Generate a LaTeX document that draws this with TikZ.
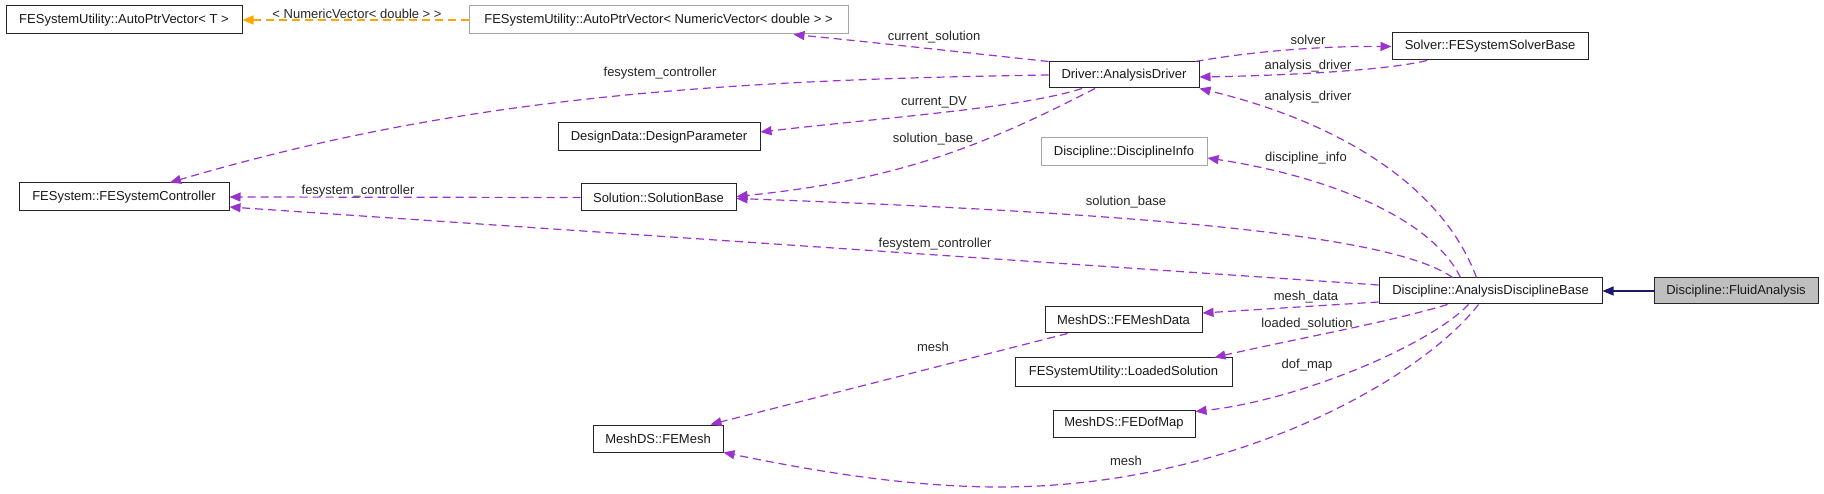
\documentclass[tikz,border=0pt]{standalone}
\usepackage{fontspec}
\setmainfont{Liberation Sans}
\usetikzlibrary{arrows.meta}
\definecolor{edgepurple}{HTML}{9A32CD}
\definecolor{tmplorange}{HTML}{FFA500}
\definecolor{inhnavy}{HTML}{191970}
\definecolor{boxgray}{HTML}{BFBFBF}
\begin{document}
\begin{tikzpicture}[x=1pt,y=-1pt,
  cls/.style={draw=black!85, line width=1pt, fill=white, inner sep=0pt, font=\fontsize{13}{15}\selectfont, text=black!90},
  clsl/.style={cls, draw=black!35},
  lbl/.style={inner sep=0pt, font=\fontsize{13}{15}\selectfont, text=black!85},
  use/.style={draw=edgepurple, line width=1.2pt, dash pattern=on 8pt off 5pt, -{Triangle[length=11pt,width=9pt]}},
  tmpl/.style={draw=tmplorange, line width=1.2pt, dash pattern=on 8pt off 5pt, -{Triangle[length=11pt,width=9pt]}},
  inh/.style={draw=inhnavy, line width=1.2pt, -{Triangle[length=11pt,width=9pt]}}
]
\fill[white] (0,0) rectangle (1824,494);
\useasboundingbox (0,0) rectangle (1824,494);

% classes
\node[cls,  minimum width=236pt, minimum height=28pt] (autoT) at (124,20) {FESystemUtility::AutoPtrVector< T >};
\node[clsl, minimum width=379pt, minimum height=28pt] (autoN) at (658.5,20) {FESystemUtility::AutoPtrVector< NumericVector< double > >};
\node[cls,  minimum width=150pt, minimum height=26pt] (drv) at (1124,75) {Driver::AnalysisDriver};
\node[cls,  minimum width=196pt, minimum height=27pt] (solver) at (1490,46.5) {Solver::FESystemSolverBase};
\node[cls,  minimum width=210pt, minimum height=28pt] (ctrl) at (124,197) {FESystem::FESystemController};
\node[cls,  minimum width=202pt, minimum height=28pt] (dp) at (659,137) {DesignData::DesignParameter};
\node[cls,  minimum width=155pt, minimum height=27pt] (sol) at (658.5,197.5) {Solution::SolutionBase};
\node[clsl, minimum width=166pt, minimum height=28pt] (dinfo) at (1124,152) {Discipline::DisciplineInfo};
\node[cls,  minimum width=223pt, minimum height=26pt] (adb) at (1490.5,291) {Discipline::AnalysisDisciplineBase};
\node[cls,  fill=boxgray, minimum width=164pt, minimum height=26pt] (fluid) at (1736,291) {Discipline::FluidAnalysis};
\node[cls,  minimum width=157pt, minimum height=26pt] (md) at (1123.5,320) {MeshDS::FEMeshData};
\node[cls,  minimum width=217pt, minimum height=28pt] (ls) at (1123.5,372) {FESystemUtility::LoadedSolution};
\node[cls,  minimum width=142pt, minimum height=27pt] (dof) at (1124,423.5) {MeshDS::FEDofMap};
\node[cls,  minimum width=130pt, minimum height=27pt] (mesh) at (658,438.5) {MeshDS::FEMesh};

% connectors
\draw[tmpl] (autoN.west) -- (autoT.east);
\draw[use] (drv.north west) .. controls (960,52) and (870,42) .. ([xshift=-55pt]autoN.south east);
\draw[use] (drv.west) .. controls (700,80) and (450,100) .. ([xshift=46pt]ctrl.north);
\draw[use] ([xshift=-42pt]drv.south) .. controls (1020,108) and (900,116) .. ([yshift=5pt]dp.east);
\draw[use] ([xshift=-29pt]drv.south) .. controls (985,145) and (900,180) .. ([yshift=1pt]sol.east);
\draw[use] ([xshift=-4pt]drv.north east) .. controls (1260,50) and (1330,46) .. (solver.west);
\draw[use] ([xshift=-63pt]solver.south) .. controls (1380,72) and (1260,76) .. ([yshift=-2pt]drv.east);
\draw[use] ([xshift=-14pt]adb.north) .. controls (1440,180) and (1330,120) .. (drv.south east);
\draw[use] ([xshift=-30pt]adb.north) .. controls (1430,215) and (1320,175) .. ([yshift=-6pt]dinfo.east);
\draw[use] ([xshift=-38pt]adb.north) .. controls (1400,240) and (1200,215) .. ([yshift=-1pt]sol.east);
\draw[use] ([yshift=6pt]adb.west) -- ([yshift=-10pt]ctrl.east);
\draw[use] (sol.west) -- (ctrl.east);
\draw[use] ([yshift=-11pt]adb.west) -- ([yshift=7pt]md.east);
\draw[use] ([xshift=-43pt]adb.south) .. controls (1390,322) and (1290,340) .. ([xshift=-18pt]ls.north east);
\draw[use] ([xshift=-22pt]adb.south) .. controls (1430,345) and (1300,400) .. ([yshift=-2pt]dof.north east);
\draw[use] ([xshift=-12pt]adb.south) .. controls (1420,380) and (1230,487) .. (1000,487)
           .. controls (900,487) and (800,468) .. (mesh.south east);
\draw[use] ([xshift=-56pt]md.south) -- ([xshift=-13pt]mesh.north east);
\draw[inh] (fluid.west) -- (adb.east);

% labels
\node[lbl] (l1) at (357,14) {< NumericVector< double > >};
\node[lbl] (l2) at (934,37) {current\_solution};
\node[lbl] (l3) at (660,73) {fesystem\_controller};
\node[lbl] (l4) at (934,102) {current\_DV};
\node[lbl] (l5) at (933,139) {solution\_base};
\node[lbl] (l6) at (1308,40) {solver};
\node[lbl] (l7) at (1308,66) {analysis\_driver};
\node[lbl] (l8) at (1308,97) {analysis\_driver};
\node[lbl] (l9) at (1306,158) {discipline\_info};
\node[lbl] (l10) at (1126,202) {solution\_base};
\node[lbl] (l11) at (935,244) {fesystem\_controller};
\node[lbl] (l12) at (358,191) {fesystem\_controller};
\node[lbl] (l13) at (1306,297) {mesh\_data};
\node[lbl] (l14) at (1307,324) {loaded\_solution};
\node[lbl] (l15) at (1307,365) {dof\_map};
\node[lbl] (l16) at (1126,461) {mesh};
\node[lbl] (l17) at (933,347) {mesh};
\end{tikzpicture}
\end{document}
